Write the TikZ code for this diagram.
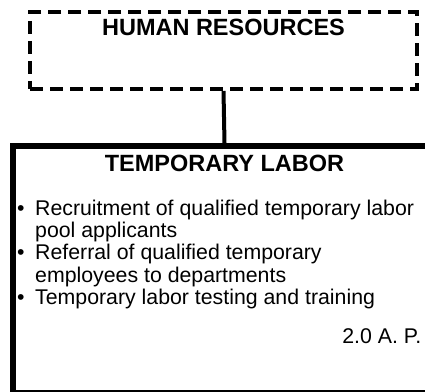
\documentclass[tikz,border=0pt]{standalone}
\usepackage{fontspec}
\setmainfont{Liberation Sans}
\usepackage{tikz}
\usetikzlibrary{positioning}
\tikzstyle{deptbox}   = [draw, dashed, line width=4pt, dash pattern=on 13pt off 7pt, rectangle, inner xsep=0pt, inner ysep=7pt, minimum width=387pt, text height=17pt, text depth=46pt, font=\bfseries\fontsize{23.5}{26}\selectfont]
\tikzstyle{unitbox}   = [draw, line width=6pt, rectangle, inner xsep=0pt, inner ysep=9pt, minimum width=423pt, text height=17pt, text depth=212pt, font=\bfseries\fontsize{23.5}{26}\selectfont]
\tikzstyle{duties}    = [align=left, inner sep=0pt, font=\fontsize{21.3}{22.3}\selectfont]
\tikzstyle{code}      = [inner sep=0pt, font=\fontsize{21.3}{22.3}\selectfont]
\tikzstyle{conn}      = [line width=4pt]
\newcommand{\duty}{\makebox[0pt][r]{\textbullet\kern10.5pt}}

\begin{document}
\begin{tikzpicture}[x=1pt,y=1pt]
        \useasboundingbox (0,0) rectangle (425,391);

        \node[deptbox, anchor=north west] (hr) at (28,381) {HUMAN RESOURCES};
        \node[unitbox, anchor=north west] (tl) at (10,248) {TEMPORARY LABOR};

        % base anchor sits on the last line
        \node[duties, anchor=base west] (list) at (35,86.5) {%
            \duty Recruitment of qualified temporary labor\\
            pool applicants\\
            \duty Referral of qualified temporary\\
            employees to departments\\
            \duty Temporary labor testing and training};
        \node[code, anchor=base east] (num) at (421.5,48) {2.0 A. P.};

        \draw[conn] (hr.south) -- (tl.north);
    \end{tikzpicture}
\end{document}
